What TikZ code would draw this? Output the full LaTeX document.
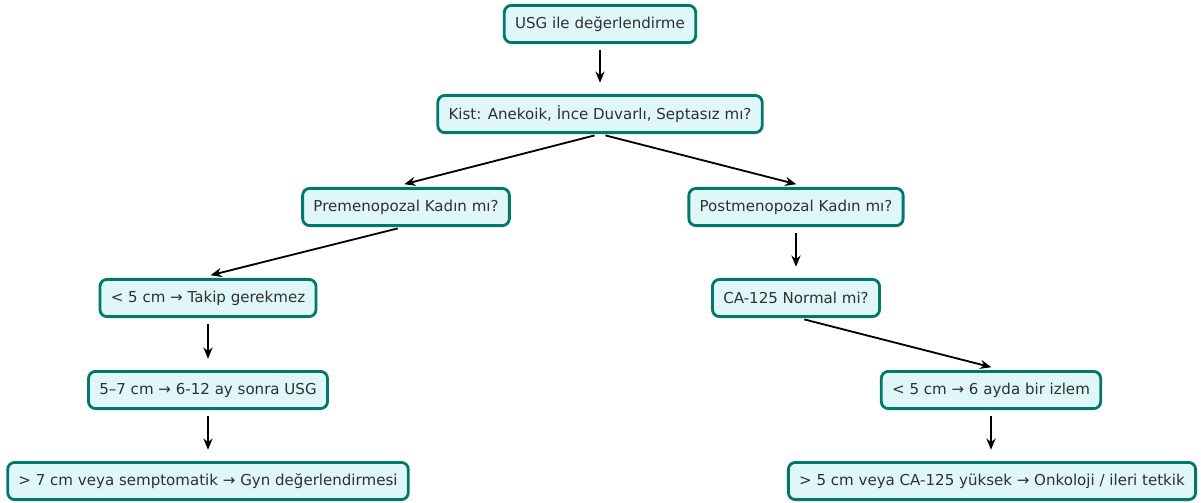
\documentclass[tikz,border=0pt]{standalone}
\usepackage{fontspec}
\setmainfont{DejaVu Sans}
\usepackage{tikz}
\usetikzlibrary{arrows.meta,positioning}
\definecolor{boxedge}{HTML}{00796B}
\definecolor{boxfill}{HTML}{E0F7FA}
\definecolor{boxtext}{HTML}{303030}

\begin{document}
\begin{tikzpicture}[x=0.025cm,y=-0.025cm,>={Stealth[length=8pt,width=6.5pt]},
  box/.style={draw=boxedge,fill=boxfill,line width=2pt,rounded corners=5pt,
    minimum height=0.93cm,inner xsep=0.27cm,text=boxtext,
    font=\fontsize{10.7pt}{12pt}\selectfont},
  flow/.style={line width=1.3pt,->,shorten <=4pt,shorten >=8pt}]
  \useasboundingbox (0,0) rectangle (1201,502);
  \node[box] (usg)   at (600,24)  {USG ile değerlendirme};
  \node[box] (kist)  at (600,114) {Kist: Anekoik, İnce Duvarlı, Septasız mı?};
  \node[box] (pre)   at (406,207) {Premenopozal Kadın mı?};
  \node[box] (post)  at (796,207) {Postmenopozal Kadın mı?};
  \node[box] (takip) at (208,298) {< 5 cm → Takip gerekmez};
  \node[box] (ca)    at (796,298) {CA-125 Normal mi?};
  \node[box] (usgb)  at (208,390) {5–7 cm → 6-12 ay sonra USG};
  \node[box] (izlem) at (991,390) {< 5 cm → 6 ayda bir izlem};
  \node[box] (gyn)   at (208,481) {> 7 cm veya semptomatik → Gyn değerlendirmesi};
  \node[box] (onko)  at (992,481) {> 5 cm veya CA-125 yüksek → Onkoloji / ileri tetkik};
  \draw[flow] (kist.south) -- ([xshift=-9pt]pre.north);
  \draw[flow] (usg.south) -- (kist.north);
  \draw[flow] (kist.south) -- ([xshift=8pt]post.north);
  \draw[flow] ([xshift=-2pt]pre.south) -- ([xshift=-6pt]takip.north);
  \draw[flow] (post.south) -- (ca.north);
  \draw[flow] (takip.south) -- (usgb.north);
  \draw[flow] ([xshift=2pt]ca.south) -- ([xshift=8pt]izlem.north);
  \draw[flow] (usgb.south) -- (gyn.north);
  \draw[flow] (izlem.south) -- (izlem.south |- onko.north);
\end{tikzpicture}
\end{document}
